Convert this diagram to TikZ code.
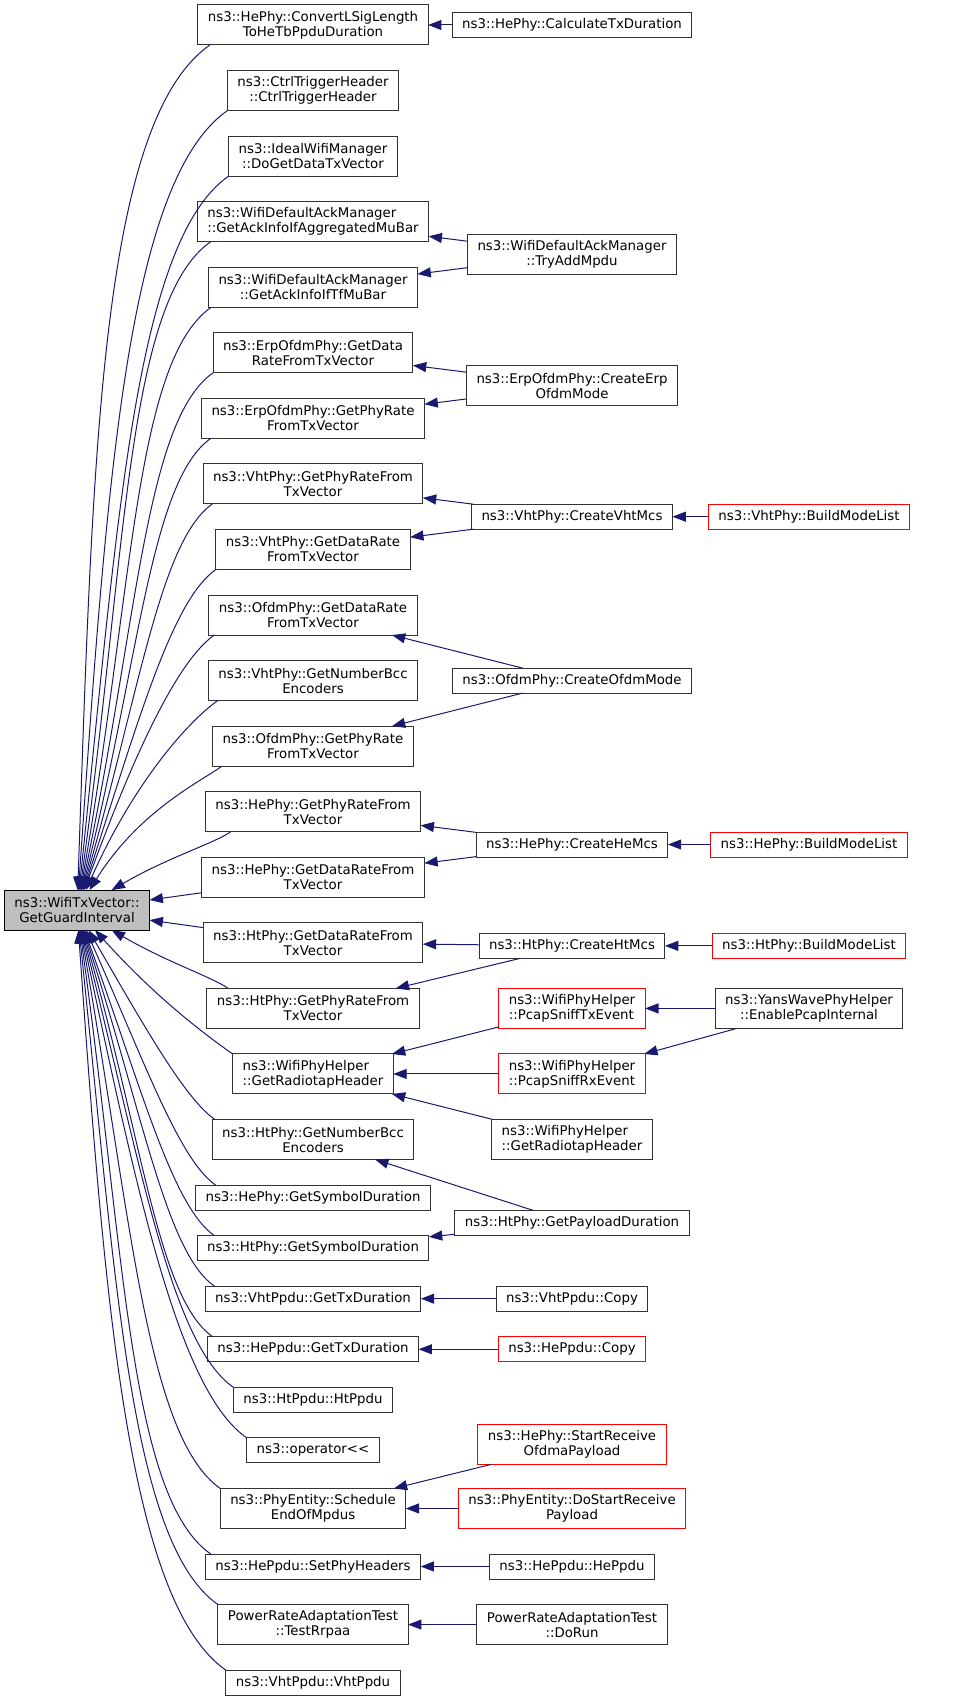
\documentclass[tikz,border=0pt]{standalone}
\usepackage{fontspec}
\setmainfont{DejaVu Sans}
\usepackage{tikz}
\usetikzlibrary{positioning, calc, arrows.meta}

\definecolor{edgeblue}{HTML}{191970}

\begin{document}
\begin{tikzpicture}[x=0.75pt, y=0.75pt,
    funcnode/.style={rectangle, draw=black!80, line width=0.75pt, fill=white,
      font=\fontsize{10}{11.25}\selectfont, align=center, inner xsep=7.5pt,
      inner ysep=3pt, outer sep=0pt, minimum height=18.75pt},
    tallnode/.style={funcnode, minimum height=30pt},
    rednode/.style={draw=red},
    rootnode/.style={tallnode, fill=black!25, draw=black},
    call/.style={draw=edgeblue, line width=0.75pt, -{Triangle[length=10pt, width=7.5pt]}},
    node distance=19.17pt]
  \useasboundingbox (0,0) rectangle (963,-1701);
  % Callers (left column)
  \node[tallnode] (convert) at (313,-25) {ns3::HePhy::ConvertLSigLength\\ToHeTbPpduDuration};
  \node[tallnode] (ctrl) [below=of convert] {ns3::CtrlTriggerHeader\\::CtrlTriggerHeader};
  \node[tallnode] (ideal) [below=of ctrl] {ns3::IdealWifiManager\\::DoGetDataTxVector};
  \node[tallnode, align=left] (agg) [below=of ideal] {ns3::WifiDefaultAckManager\\::GetAckInfoIfAggregatedMuBar};
  \node[tallnode] (tf) [below=of agg] {ns3::WifiDefaultAckManager\\::GetAckInfoIfTfMuBar};
  \node[tallnode] (erpdata) [below=of tf] {ns3::ErpOfdmPhy::GetData\\RateFromTxVector};
  \node[tallnode] (erpphy) [below=of erpdata] {ns3::ErpOfdmPhy::GetPhyRate\\FromTxVector};
  \node[tallnode] (vhtrate) [below=of erpphy] {ns3::VhtPhy::GetPhyRateFrom\\TxVector};
  \node[tallnode] (vhtdata) [below=of vhtrate] {ns3::VhtPhy::GetDataRate\\FromTxVector};
  \node[tallnode] (ofdmdata) [below=of vhtdata] {ns3::OfdmPhy::GetDataRate\\FromTxVector};
  \node[tallnode] (vhtbcc) [below=of ofdmdata] {ns3::VhtPhy::GetNumberBcc\\Encoders};
  \node[tallnode] (ofdmphy) [below=of vhtbcc] {ns3::OfdmPhy::GetPhyRate\\FromTxVector};
  \node[tallnode] (herate) [below=of ofdmphy] {ns3::HePhy::GetPhyRateFrom\\TxVector};
  \node[tallnode] (hedata) [below=of herate] {ns3::HePhy::GetDataRateFrom\\TxVector};
  \node[tallnode] (htdata) [below=of hedata] {ns3::HtPhy::GetDataRateFrom\\TxVector};
  \node[tallnode] (htrate) [below=of htdata] {ns3::HtPhy::GetPhyRateFrom\\TxVector};
  \node[tallnode, align=left] (radiotap) [below=of htrate] {ns3::WifiPhyHelper\\::GetRadiotapHeader};
  \node[tallnode] (htbcc) [below=of radiotap] {ns3::HtPhy::GetNumberBcc\\Encoders};
  \node[funcnode] (hesym) [below=of htbcc] {ns3::HePhy::GetSymbolDuration};
  \node[funcnode] (htsym) [below=of hesym] {ns3::HtPhy::GetSymbolDuration};
  \node[funcnode] (vhttx) [below=of htsym] {ns3::VhtPpdu::GetTxDuration};
  \node[funcnode] (hetx) [below=of vhttx] {ns3::HePpdu::GetTxDuration};
  \node[funcnode] (htppdu) [below=of hetx] {ns3::HtPpdu::HtPpdu};
  \node[funcnode] (oper) [below=of htppdu] {ns3::operator<{}<};
  \node[tallnode] (sched) [below=of oper] {ns3::PhyEntity::Schedule\\EndOfMpdus};
  \node[funcnode] (setphy) [below=of sched] {ns3::HePpdu::SetPhyHeaders};
  \node[tallnode] (rrpaa) [below=of setphy] {PowerRateAdaptationTest\\::TestRrpaa};
  \node[funcnode] (vhtppdu) [below=of rrpaa] {ns3::VhtPpdu::VhtPpdu};
  % Columns and rows in between
  \coordinate (colA) at (77,0);
  \coordinate (colC) at (572,0);
  \coordinate (colD) at (809,0);
  \coordinate (m1) at ($(agg)!0.5!(tf)$);
  \coordinate (m2) at ($(erpdata)!0.5!(erpphy)$);
  \coordinate (m3) at ($(vhtrate)!0.5!(vhtdata)$);
  \coordinate (m4) at ($(herate)!0.5!(hedata)$);
  \coordinate (m5) at ($(hedata)!0.5!(htdata)$);
  \coordinate (m6) at ($(hesym)!0.5!(htsym)$);
  \coordinate (m7) at ($(htdata)+(0,-3)$);
  \coordinate (m8) at ($(oper)+(0,6)$);
  % The called function
  \node[rootnode] (root) at (m5 -| colA) {ns3::WifiTxVector::\\GetGuardInterval};
  % Callers of the callers
  \node[funcnode] (calctx) at (convert -| colC) {ns3::HePhy::CalculateTxDuration};
  \node[tallnode] (tryadd) at (m1 -| colC) {ns3::WifiDefaultAckManager\\::TryAddMpdu};
  \node[tallnode] (erpmode) at (m2 -| colC) {ns3::ErpOfdmPhy::CreateErp\\OfdmMode};
  \node[funcnode] (vhtmcs) at (m3 -| colC) {ns3::VhtPhy::CreateVhtMcs};
  \node[funcnode, rednode] (vhtbuild) at (m3 -| colD) {ns3::VhtPhy::BuildModeList};
  \node[funcnode] (ofdmmode) at (vhtbcc -| colC) {ns3::OfdmPhy::CreateOfdmMode};
  \node[funcnode] (hemcs) at (m4 -| colC) {ns3::HePhy::CreateHeMcs};
  \node[funcnode, rednode] (hebuild) at (m4 -| colD) {ns3::HePhy::BuildModeList};
  \node[funcnode] (htmcs) at (m7 -| colC) {ns3::HtPhy::CreateHtMcs};
  \node[funcnode, rednode] (htbuild) at (m7 -| colD) {ns3::HtPhy::BuildModeList};
  \node[tallnode, rednode, align=left] (snifftx) at (htrate -| colC) {ns3::WifiPhyHelper\\::PcapSniffTxEvent};
  \node[tallnode] (yans) at (htrate -| colD) {ns3::YansWavePhyHelper\\::EnablePcapInternal};
  \node[tallnode, rednode, align=left] (sniffrx) at (radiotap -| colC) {ns3::WifiPhyHelper\\::PcapSniffRxEvent};
  \node[tallnode, align=left] (radiotap2) at (htbcc -| colC) {ns3::WifiPhyHelper\\::GetRadiotapHeader};
  \node[funcnode] (payload) at (m6 -| colC) {ns3::HtPhy::GetPayloadDuration};
  \node[funcnode] (vhtcopy) at (vhttx -| colC) {ns3::VhtPpdu::Copy};
  \node[funcnode, rednode] (hecopy) at (hetx -| colC) {ns3::HePpdu::Copy};
  \node[tallnode, rednode] (ofdmapay) at (m8 -| colC) {ns3::HePhy::StartReceive\\OfdmaPayload};
  \node[tallnode, rednode] (dostart) at (sched -| colC) {ns3::PhyEntity::DoStartReceive\\Payload};
  \node[funcnode] (heppdu) at (setphy -| colC) {ns3::HePpdu::HePpdu};
  \node[tallnode] (dorun) at (rrpaa -| colC) {PowerRateAdaptationTest\\::DoRun};
  % Lines into the called function
  \foreach \n/\sh/\a in {convert/9pt/88, ctrl/0pt/86, ideal/0pt/84, agg/10pt/82, tf/2pt/80,
      erpdata/0pt/78, erpphy/7pt/76, vhtrate/7pt/74, vhtdata/0pt/72, ofdmdata/4pt/70,
      vhtbcc/7pt/66, ofdmphy/7pt/58, herate/19pt/30}
    \draw[call] ([xshift=\sh]\n.south west) to[out=215, in=\a, out looseness=0.4, in looseness=1.3] (root.\a);
  \foreach \n/\sh/\a in {htrate/16pt/-30, radiotap/0pt/-48, htbcc/2pt/-60, hesym/15pt/-66,
      htsym/13pt/-70, vhttx/7pt/-72, hetx/4pt/-74, htppdu/0pt/-76, oper/0pt/-78,
      sched/0pt/-80, setphy/4pt/-82, rrpaa/0pt/-84, vhtppdu/0pt/-86}
    \draw[call] ([xshift=\sh]\n.north west) to[out=145, in=\a, out looseness=0.4, in looseness=1.3] (root.\a);
  \draw[call] (hedata) -- (root);
  \draw[call] (htdata) -- (root);
  % Lines between the other functions
  \foreach \p/\q in {calctx/convert, tryadd/agg, tryadd/tf, erpmode/erpdata, erpmode/erpphy,
      vhtmcs/vhtrate, vhtmcs/vhtdata, vhtbuild/vhtmcs, ofdmmode/ofdmdata, ofdmmode/ofdmphy,
      hemcs/herate, hemcs/hedata, hebuild/hemcs, htmcs/htdata, htmcs/htrate, htbuild/htmcs,
      snifftx/radiotap, sniffrx/radiotap, radiotap2/radiotap, yans/snifftx, yans/sniffrx,
      payload/htbcc, payload/htsym, vhtcopy/vhttx, hecopy/hetx, ofdmapay/sched,
      dostart/sched, heppdu/setphy, dorun/rrpaa}
    \draw[call] (\p) -- (\q);
\end{tikzpicture}
\end{document}
